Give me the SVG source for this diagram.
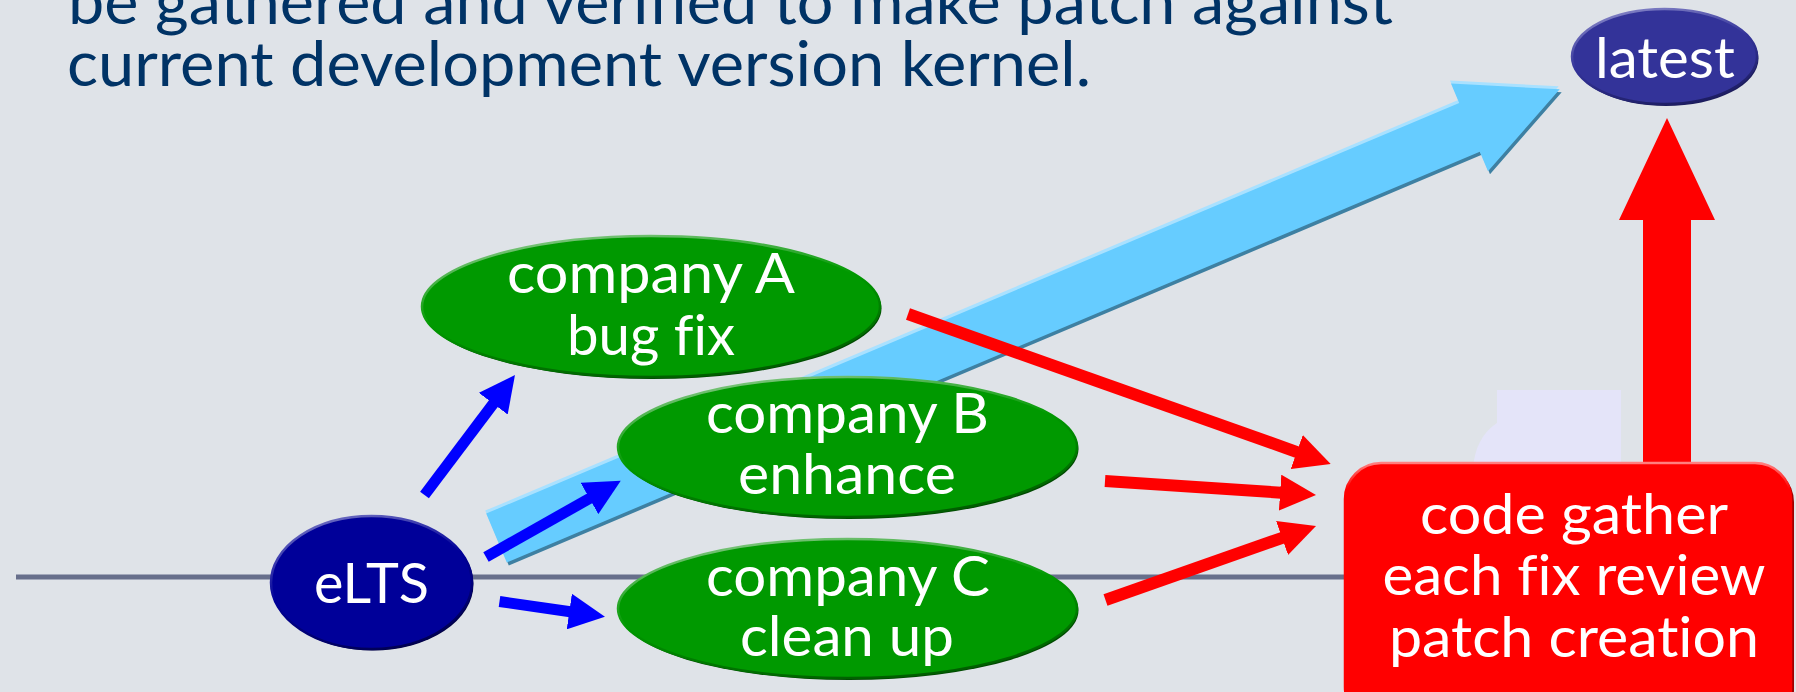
<svg xmlns="http://www.w3.org/2000/svg" width="1796" height="692" viewBox="0 0 1796 692">
<style>
.title{font-family:Lato,"Liberation Sans",sans-serif;font-size:62px;fill:#003366;font-variant-ligatures:none;font-feature-settings:"liga" 0}
.lbl{font-family:Lato,"Liberation Sans",sans-serif;font-size:57px;fill:#ffffff;text-anchor:middle;font-variant-ligatures:none;font-feature-settings:"liga" 0}
.blue{stroke:#0000ff;stroke-width:11;fill:none;marker-end:url(#hb)}
.red{stroke:#ff0000;stroke-width:12;fill:none;marker-end:url(#hr)}
.gshadow{fill:#004800}
.green{fill:#009900;stroke:url(#gG);stroke-width:2.5}
</style>
<defs>
<marker id="hb" markerUnits="userSpaceOnUse" markerWidth="36" markerHeight="36" viewBox="0 0 36 36" refX="1" refY="18" orient="auto"><path d="M0,0 L36,18 L0,36 Z" fill="#0000ff"/></marker>
<marker id="hr" markerUnits="userSpaceOnUse" markerWidth="36" markerHeight="36" viewBox="0 0 36 36" refX="1" refY="18" orient="auto"><path d="M0,0 L36,18 L0,36 Z" fill="#ff0000"/></marker>
<linearGradient id="gG" x1="0.3" y1="0" x2="0.7" y2="1"><stop offset="0" stop-color="#7cc47c"/><stop offset="0.45" stop-color="#009900"/><stop offset="1" stop-color="#005a00"/></linearGradient>
<linearGradient id="gN" x1="0.3" y1="0" x2="0.7" y2="1"><stop offset="0" stop-color="#6b6bc0"/><stop offset="0.45" stop-color="#000099"/><stop offset="1" stop-color="#000050"/></linearGradient>
<linearGradient id="gL" x1="0.3" y1="0" x2="0.7" y2="1"><stop offset="0" stop-color="#8080c4"/><stop offset="0.45" stop-color="#333399"/><stop offset="1" stop-color="#1c1c60"/></linearGradient>
<linearGradient id="gR" x1="0" y1="0" x2="0" y2="1"><stop offset="0" stop-color="#ff8080"/><stop offset="0.1" stop-color="#ff0000"/><stop offset="1" stop-color="#ff0000"/></linearGradient>
</defs>
<rect width="1796" height="692" fill="#dfe3e8"/>
<g id="title">
<text class="title" x="68" y="24" textLength="1325" lengthAdjust="spacingAndGlyphs">be gathered and verified to make patch against</text>
<text class="title" x="67" y="86" textLength="1024" lengthAdjust="spacingAndGlyphs">current development version kernel.</text>
</g>
<g id="timeline">
<line x1="16" y1="577" x2="1350" y2="577" stroke="#676f8b" stroke-width="5"/>
</g>
<g id="backdrop">
<path d="M1497,390 H1621 V470 H1473 C1474,448 1483,432 1497,423 Z" fill="#e4e4f9"/>
</g>
<g id="connectors">
<g id="main-arrow">
<polygon points="486.2,513.6 1459.2,103 1451,83.6 1559.7,89.3 1488,171.2 1479.8,151.8 506.8,562.4" fill="#3e80a2" transform="translate(2,3)"/>
<polygon points="486.2,513.6 1459.2,103 1451,83.6 1559.7,89.3 1488,171.2 1479.8,151.8 506.8,562.4" fill="#a9e1ff" transform="translate(-1,-3)"/>
<polygon points="486.2,513.6 1459.2,103 1451,83.6 1559.7,89.3 1488,171.2 1479.8,151.8 506.8,562.4" fill="#66ccff"/>
</g>
<line class="blue" x1="424.5" y1="495" x2="493.9" y2="402.9"/>
<line class="blue" x1="486" y1="557" x2="590.3" y2="498"/>
<line class="blue" x1="499.5" y1="601.5" x2="570.3" y2="611.7"/>
<line class="red" x1="908" y1="314" x2="1297.7" y2="452.3"/>
<line class="red" x1="1105" y1="481" x2="1281.1" y2="492.7"/>
<line class="red" x1="1105.5" y1="600" x2="1283" y2="537.6"/>
<polygon points="1643,470 1643,220 1619,220 1667,118 1715,220 1691,220 1691,470" fill="#ff0000"/>
</g>
<g id="elts">
<ellipse cx="373" cy="584" rx="100.5" ry="66.5" fill="#000040"/>
<ellipse cx="371.5" cy="582.5" rx="100.5" ry="66.5" fill="#000099" stroke="url(#gN)" stroke-width="2.5"/>
<text class="lbl" x="371.5" y="603" textLength="115" lengthAdjust="spacingAndGlyphs">eLTS</text>
</g>
<g id="companyA">
<ellipse class="gshadow" cx="652.5" cy="308.5" rx="229" ry="70.5"/>
<ellipse class="green" cx="651" cy="306.5" rx="229" ry="70.5"/>
<text class="lbl" x="651" y="293" textLength="288" lengthAdjust="spacingAndGlyphs">company A</text>
<text class="lbl" x="651" y="355" textLength="168" lengthAdjust="spacingAndGlyphs">bug fix</text>
</g>
<g id="companyB">
<ellipse class="gshadow" cx="849" cy="449" rx="229.5" ry="70"/>
<ellipse class="green" cx="847.5" cy="447" rx="229.5" ry="70"/>
<text class="lbl" x="847.5" y="433" textLength="283" lengthAdjust="spacingAndGlyphs">company B</text>
<text class="lbl" x="847" y="494" textLength="218" lengthAdjust="spacingAndGlyphs">enhance</text>
</g>
<g id="companyC">
<ellipse class="gshadow" cx="849" cy="610.5" rx="229.5" ry="69.5"/>
<ellipse class="green" cx="847.5" cy="608.5" rx="229.5" ry="69.5"/>
<text class="lbl" x="848" y="596" textLength="284" lengthAdjust="spacingAndGlyphs">company C</text>
<text class="lbl" x="847" y="656" textLength="214" lengthAdjust="spacingAndGlyphs">clean up</text>
</g>
<g id="codegather">
<rect x="1348" y="466" width="446" height="260" rx="36" fill="#a00000"/>
<rect x="1345" y="463" width="446" height="260" rx="36" fill="#ff0000" stroke="url(#gR)" stroke-width="2.5"/>
<text class="lbl" x="1574" y="534" textLength="308" lengthAdjust="spacingAndGlyphs">code gather</text>
<text class="lbl" x="1574" y="595" textLength="383" lengthAdjust="spacingAndGlyphs">each fix review</text>
<text class="lbl" x="1574" y="657" textLength="370" lengthAdjust="spacingAndGlyphs">patch creation</text>
</g>
<g id="latest">
<ellipse cx="1666" cy="58.5" rx="92.5" ry="47.5" fill="#1c1c5a"/>
<ellipse cx="1664.5" cy="56.5" rx="92.5" ry="47.5" fill="#333399" stroke="url(#gL)" stroke-width="2.5"/>
<text class="lbl" x="1665" y="78" textLength="140" lengthAdjust="spacingAndGlyphs">latest</text>
</g>
</svg>
